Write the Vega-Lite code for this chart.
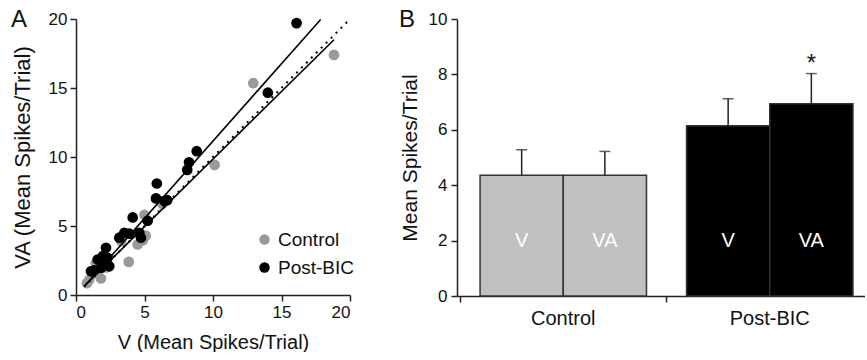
{
  "$schema": "https://vega.github.io/schema/vega-lite/v6.json",
  "padding": {"left": 11, "top": 8, "right": 0, "bottom": 0},
  "background": "white",
  "config": {
    "font": "Liberation Sans",
    "view": {"stroke": null},
    "axis": {
      "grid": false,
      "domainColor": "#222222",
      "tickColor": "#222222",
      "labelColor": "#111111",
      "titleColor": "#111111",
      "labelFontSize": 17,
      "titleFontSize": 21,
      "titleFontWeight": "normal",
      "tickSize": 6,
      "domainWidth": 1.5,
      "tickWidth": 1.5,
      "labelPadding": 3
    },
    "concat": {"spacing": 47}
  },
  "datasets": {
    "points": [
      {"group": "Control", "v": 0.8, "va": 0.86},
      {"group": "Control", "v": 0.97, "va": 1.11},
      {"group": "Control", "v": 1.82, "va": 1.2},
      {"group": "Control", "v": 1.34, "va": 1.59},
      {"group": "Control", "v": 1.44, "va": 2.3},
      {"group": "Control", "v": 2.2, "va": 2.0},
      {"group": "Control", "v": 3.3, "va": 3.9},
      {"group": "Control", "v": 3.85, "va": 2.4},
      {"group": "Control", "v": 4.5, "va": 3.66},
      {"group": "Control", "v": 4.87, "va": 3.95},
      {"group": "Control", "v": 5.09, "va": 4.3},
      {"group": "Control", "v": 5.0, "va": 5.8},
      {"group": "Control", "v": 6.3, "va": 6.6},
      {"group": "Control", "v": 10.12, "va": 9.43},
      {"group": "Control", "v": 12.94, "va": 15.35},
      {"group": "Control", "v": 18.83, "va": 17.4},
      {"group": "Post-BIC", "v": 1.09, "va": 1.72},
      {"group": "Post-BIC", "v": 1.34, "va": 1.79},
      {"group": "Post-BIC", "v": 1.58, "va": 2.57},
      {"group": "Post-BIC", "v": 1.95, "va": 2.81},
      {"group": "Post-BIC", "v": 2.19, "va": 3.42},
      {"group": "Post-BIC", "v": 2.31, "va": 2.69},
      {"group": "Post-BIC", "v": 2.07, "va": 2.32},
      {"group": "Post-BIC", "v": 2.43, "va": 2.08},
      {"group": "Post-BIC", "v": 1.82, "va": 1.96},
      {"group": "Post-BIC", "v": 3.16, "va": 4.15},
      {"group": "Post-BIC", "v": 3.53, "va": 4.51},
      {"group": "Post-BIC", "v": 3.89, "va": 4.44},
      {"group": "Post-BIC", "v": 4.62, "va": 4.51},
      {"group": "Post-BIC", "v": 4.74, "va": 4.15},
      {"group": "Post-BIC", "v": 4.14, "va": 5.62},
      {"group": "Post-BIC", "v": 5.23, "va": 5.38},
      {"group": "Post-BIC", "v": 5.84, "va": 7.0},
      {"group": "Post-BIC", "v": 6.45, "va": 6.82},
      {"group": "Post-BIC", "v": 6.66, "va": 6.87},
      {"group": "Post-BIC", "v": 5.9, "va": 8.08},
      {"group": "Post-BIC", "v": 8.12, "va": 9.07},
      {"group": "Post-BIC", "v": 8.25, "va": 9.62},
      {"group": "Post-BIC", "v": 8.81, "va": 10.42},
      {"group": "Post-BIC", "v": 14.0, "va": 14.66},
      {"group": "Post-BIC", "v": 16.1, "va": 19.7}
    ],
    "fits": [
      {"fit": "Post-BIC", "v": 0.6, "va": 0.62},
      {"fit": "Post-BIC", "v": 17.86, "va": 19.96},
      {"fit": "Control", "v": 0.6, "va": 0.64},
      {"fit": "Control", "v": 18.83, "va": 18.5}
    ],
    "unity": [
      {"v": 0.6, "va": 0.6},
      {"v": 19.8, "va": 19.8}
    ],
    "bars": [
      {"group": "Control", "cond": "V", "mean": 4.36, "upper": 5.28, "sig": ""},
      {"group": "Control", "cond": "VA", "mean": 4.36, "upper": 5.22, "sig": ""},
      {"group": "Post-BIC", "cond": "V", "mean": 6.15, "upper": 7.12, "sig": ""},
      {"group": "Post-BIC", "cond": "VA", "mean": 6.94, "upper": 8.03, "sig": "*"}
    ]
  },
  "hconcat": [
    {
      "width": 274,
      "height": 276,
      "title": {"text": "A", "anchor": "start", "frame": "bounds", "fontSize": 24, "fontWeight": "normal", "offset": -22, "color": "#111111"},
      "layer": [
        {
          "data": {"name": "points"},
          "mark": {"type": "circle", "size": 115, "opacity": 1},
          "encoding": {
            "x": {"field": "v", "type": "quantitative", "scale": {"domain": [0, 20], "nice": false},
                  "axis": {"values": [0, 5, 10, 15, 20], "title": "V (Mean Spikes/Trial)", "titleFontSize": 20, "titlePadding": 12}},
            "y": {"field": "va", "type": "quantitative", "scale": {"domain": [0, 20], "nice": false},
                  "axis": {"values": [0, 5, 10, 15, 20], "title": "VA (Mean Spikes/Trial)", "titleFontSize": 22, "titlePadding": 14}},
            "color": {"field": "group", "type": "nominal",
                      "scale": {"domain": ["Control", "Post-BIC"], "range": ["#999999", "#000000"]},
                      "legend": {"title": null, "orient": "none", "legendX": 179, "legendY": 211, "labelFontSize": 19, "labelColor": "#111111",
                                 "symbolSize": 110, "symbolType": "circle", "rowPadding": 8, "labelOffset": 4, "symbolStrokeWidth": 0}}
          }
        },
        {
          "data": {"name": "fits"},
          "mark": {"type": "line", "color": "#000000", "strokeWidth": 1.6},
          "encoding": {
            "x": {"field": "v", "type": "quantitative"},
            "y": {"field": "va", "type": "quantitative"},
            "detail": {"field": "fit", "type": "nominal"}
          }
        },
        {
          "data": {"name": "unity"},
          "mark": {"type": "line", "color": "#000000", "strokeWidth": 2, "strokeDash": [2, 5]},
          "encoding": {
            "x": {"field": "v", "type": "quantitative"},
            "y": {"field": "va", "type": "quantitative"}
          }
        }
      ]
    },
    {
      "width": 408,
      "height": 277,
      "title": {"text": "B", "anchor": "start", "frame": "bounds", "fontSize": 24, "fontWeight": "normal", "offset": -22, "color": "#111111"},
      "data": {"name": "bars"},
      "encoding": {
        "x": {"field": "group", "type": "nominal", "sort": ["Control", "Post-BIC"],
              "scale": {"paddingInner": 0.194, "paddingOuter": 0.085, "align": 0.657},
              "axis": {"title": null, "labelAngle": 0, "bandPosition": -0.12, "labelFontSize": 20, "labelPadding": 6}},
        "xOffset": {"field": "cond", "type": "nominal", "sort": ["V", "VA"], "scale": {"paddingInner": 0, "paddingOuter": 0}}
      },
      "layer": [
        {
          "mark": {"type": "bar", "stroke": "#333333", "strokeWidth": 1.5},
          "encoding": {
            "y": {"field": "mean", "type": "quantitative", "scale": {"domain": [0, 10], "nice": false},
                  "axis": {"values": [0, 2, 4, 6, 8, 10], "title": "Mean Spikes/Trial", "titleFontSize": 21, "titlePadding": 8, "labelPadding": 4}},
            "fill": {"field": "group", "type": "nominal",
                     "scale": {"domain": ["Control", "Post-BIC"], "range": ["#c0c0c0", "#000000"]}, "legend": null}
          }
        },
        {
          "mark": {"type": "rule", "color": "#222222", "strokeWidth": 1.5},
          "encoding": {
            "y": {"field": "mean", "type": "quantitative"},
            "y2": {"field": "upper"}
          }
        },
        {
          "mark": {"type": "tick", "color": "#222222", "thickness": 1.5, "size": 11, "orient": "horizontal"},
          "encoding": {
            "y": {"field": "upper", "type": "quantitative"}
          }
        },
        {
          "mark": {"type": "text", "color": "#ffffff", "fontSize": 20},
          "encoding": {
            "y": {"datum": 2},
            "text": {"field": "cond"}
          }
        },
        {
          "mark": {"type": "text", "color": "#111111", "fontSize": 24, "baseline": "bottom", "dy": 2},
          "encoding": {
            "y": {"field": "upper", "type": "quantitative"},
            "text": {"field": "sig"}
          }
        }
      ]
    }
  ]
}
